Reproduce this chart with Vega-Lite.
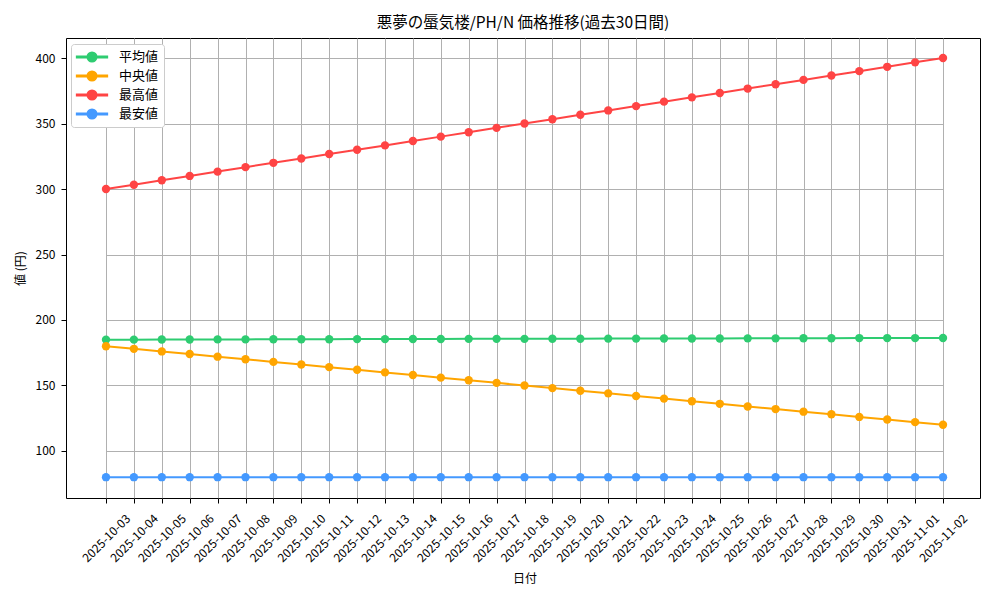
{
  "$schema": "https://vega.github.io/schema/vega-lite/v6.json",
  "width": 914,
  "height": 460,
  "autosize": {"type": "none"},
  "padding": {"left": 66, "top": 38, "right": 20, "bottom": 102},
  "background": "white",
  "title": {
    "text": "悪夢の蜃気楼/PH/N 価格推移(過去30日間)",
    "font": "Noto Sans CJK JP",
    "fontSize": 15.5,
    "fontWeight": "normal",
    "color": "black",
    "offset": 7
  },
  "data": {
    "values": [
      {"date": "2025-10-03", "平均値": 185.0, "中央値": 180, "最高値": 300.0, "最安値": 80},
      {"date": "2025-10-04", "平均値": 185.0, "中央値": 178, "最高値": 303.3, "最安値": 80},
      {"date": "2025-10-05", "平均値": 185.1, "中央値": 176, "最高値": 306.7, "最安値": 80},
      {"date": "2025-10-06", "平均値": 185.1, "中央値": 174, "最高値": 310.0, "最安値": 80},
      {"date": "2025-10-07", "平均値": 185.2, "中央値": 172, "最高値": 313.3, "最安値": 80},
      {"date": "2025-10-08", "平均値": 185.2, "中央値": 170, "最高値": 316.7, "最安値": 80},
      {"date": "2025-10-09", "平均値": 185.3, "中央値": 168, "最高値": 320.0, "最安値": 80},
      {"date": "2025-10-10", "平均値": 185.3, "中央値": 166, "最高値": 323.3, "最安値": 80},
      {"date": "2025-10-11", "平均値": 185.3, "中央値": 164, "最高値": 326.7, "最安値": 80},
      {"date": "2025-10-12", "平均値": 185.4, "中央値": 162, "最高値": 330.0, "最安値": 80},
      {"date": "2025-10-13", "平均値": 185.4, "中央値": 160, "最高値": 333.3, "最安値": 80},
      {"date": "2025-10-14", "平均値": 185.5, "中央値": 158, "最高値": 336.7, "最安値": 80},
      {"date": "2025-10-15", "平均値": 185.5, "中央値": 156, "最高値": 340.0, "最安値": 80},
      {"date": "2025-10-16", "平均値": 185.6, "中央値": 154, "最高値": 343.3, "最安値": 80},
      {"date": "2025-10-17", "平均値": 185.6, "中央値": 152, "最高値": 346.7, "最安値": 80},
      {"date": "2025-10-18", "平均値": 185.6, "中央値": 150, "最高値": 350.0, "最安値": 80},
      {"date": "2025-10-19", "平均値": 185.7, "中央値": 148, "最高値": 353.3, "最安値": 80},
      {"date": "2025-10-20", "平均値": 185.7, "中央値": 146, "最高値": 356.7, "最安値": 80},
      {"date": "2025-10-21", "平均値": 185.8, "中央値": 144, "最高値": 360.0, "最安値": 80},
      {"date": "2025-10-22", "平均値": 185.8, "中央値": 142, "最高値": 363.3, "最安値": 80},
      {"date": "2025-10-23", "平均値": 185.9, "中央値": 140, "最高値": 366.7, "最安値": 80},
      {"date": "2025-10-24", "平均値": 185.9, "中央値": 138, "最高値": 370.0, "最安値": 80},
      {"date": "2025-10-25", "平均値": 185.9, "中央値": 136, "最高値": 373.3, "最安値": 80},
      {"date": "2025-10-26", "平均値": 186.0, "中央値": 134, "最高値": 376.7, "最安値": 80},
      {"date": "2025-10-27", "平均値": 186.0, "中央値": 132, "最高値": 380.0, "最安値": 80},
      {"date": "2025-10-28", "平均値": 186.1, "中央値": 130, "最高値": 383.3, "最安値": 80},
      {"date": "2025-10-29", "平均値": 186.1, "中央値": 128, "最高値": 386.7, "最安値": 80},
      {"date": "2025-10-30", "平均値": 186.2, "中央値": 126, "最高値": 390.0, "最安値": 80},
      {"date": "2025-10-31", "平均値": 186.2, "中央値": 124, "最高値": 393.3, "最安値": 80},
      {"date": "2025-11-01", "平均値": 186.2, "中央値": 122, "最高値": 396.7, "最安値": 80},
      {"date": "2025-11-02", "平均値": 186.3, "中央値": 120, "最高値": 400.0, "最安値": 80}
    ]
  },
  "transform": [
    {"fold": ["平均値", "中央値", "最高値", "最安値"], "as": ["series", "price"]}
  ],
  "encoding": {
    "x": {
      "field": "date",
      "type": "ordinal",
      "sort": null,
      "title": "日付",
      "scale": {"type": "point", "range": [40, 877], "padding": 0},
      "axis": {
        "labelAngle": -45,
        "labelAlign": "center",
        "labelBaseline": "middle",
        "labelPadding": 35,
        "grid": true,
        "titlePadding": 9
      }
    },
    "y": {
      "field": "price",
      "type": "quantitative",
      "title": "値 (円)",
      "scale": {"domain": [64.1, 415.3], "nice": false, "zero": false},
      "axis": {"values": [100, 150, 200, 250, 300, 350, 400], "labelPadding": 6, "titlePadding": 8}
    },
    "color": {
      "field": "series",
      "type": "nominal",
      "title": null,
      "scale": {
        "domain": ["平均値", "中央値", "最高値", "最安値"],
        "range": ["#2ecc71", "#ffa500", "#ff4444", "#4499ff"]
      },
      "legend": {
        "orient": "none",
        "legendX": 5,
        "legendY": 6,
        "symbolType": "M-2.2,-0.11H2.2V0.11H-2.2Z M-0.68,0 A0.68,0.68 0 1,0 0.68,0 A0.68,0.68 0 1,0 -0.68,0 Z",
        "symbolSize": 196,
        "encode": {
          "symbols": {
            "update": {
              "fill": {"scale": "color", "field": "value"},
              "stroke": {"value": "transparent"},
              "opacity": {"value": 1}
            }
          }
        }
      }
    }
  },
  "layer": [
    {"mark": {"type": "line", "strokeWidth": 2}},
    {"mark": {"type": "circle", "size": 70, "opacity": 1}}
  ],
  "config": {
    "font": "Noto Sans CJK JP",
    "view": {"stroke": "black", "strokeWidth": 1},
    "axis": {
      "labelFont": "Noto Sans CJK JP",
      "labelFontSize": 12,
      "labelColor": "black",
      "titleFont": "Noto Sans CJK JP",
      "titleFontSize": 12,
      "titleFontWeight": "normal",
      "titleColor": "black",
      "gridColor": "#b0b0b0",
      "gridWidth": 1,
      "gridOpacity": 1,
      "domain": false,
      "tickColor": "black",
      "tickSize": 5
    },
    "legend": {
      "fillColor": "white",
      "strokeColor": "#cccccc",
      "cornerRadius": 3,
      "padding": 5,
      "rowPadding": 3,
      "labelFont": "Noto Sans CJK JP",
      "labelFontSize": 13,
      "labelColor": "black",
      "symbolOffset": 8,
      "labelOffset": 19
    }
  }
}
